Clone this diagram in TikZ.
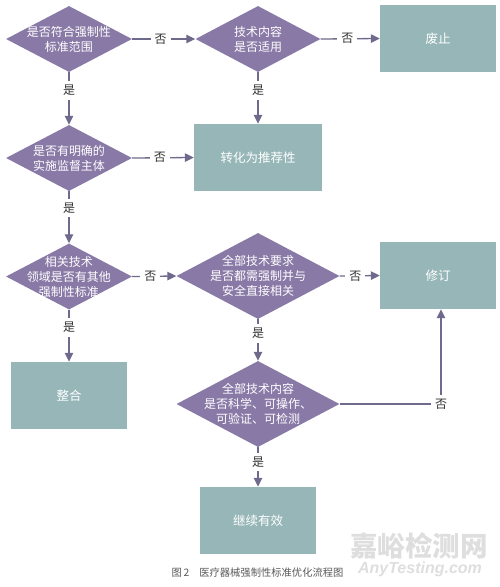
\documentclass[tikz,border=0pt]{standalone}
\usepackage{fontspec}
\setmainfont{Noto Sans CJK SC}
\newfontfamily\latinwm{Liberation Sans}
\usetikzlibrary{shapes.geometric,arrows.meta}

\definecolor{decfill}{HTML}{8979A6}
\definecolor{boxfill}{HTML}{96B6B8}
\definecolor{flowline}{HTML}{6E6A8C}

\tikzset{
  dec/.style={diamond, fill=decfill, inner sep=0pt},
  dectext/.style={align=center, text=white, font=\fontsize{12}{15}\selectfont},
  endbox/.style={rectangle, fill=boxfill, text=white, inner sep=0pt, font=\fontsize{12.5}{15}\selectfont},
  flow/.style={-{Triangle[length=9pt,width=8.5pt]}, line width=1.3pt, draw=flowline},
  answer/.style={fill=white, inner sep=4pt, text=black!80, font=\fontsize{12}{14}\selectfont},
}

\begin{document}
\begin{tikzpicture}[x=1pt, y=-1pt]
  \useasboundingbox (0,0) rectangle (500,587);

  % decisions
  \node[dec, minimum width=126pt, minimum height=66pt] (fanwei) at (69,39) {};
  \node[dec, minimum width=125pt, minimum height=66pt] (shiyong) at (258,39) {};
  \node[dec, minimum width=126pt, minimum height=66pt] (zhuti) at (69,158) {};
  \node[dec, minimum width=126pt, minimum height=66pt] (qita) at (69,276.5) {};
  \node[dec, minimum width=163pt, minimum height=86pt] (quanbu) at (258,276) {};
  \node[dec, minimum width=163pt, minimum height=86pt] (kexue) at (258,404) {};

  \node[dectext] (fanweit) at (fanwei) {是否符合强制性\\标准范围};
  \node[dectext] (shiyongt) at (shiyong) {技术内容\\是否适用};
  \node[dectext] (zhutit) at (zhuti) {是否有明确的\\实施监督主体};
  \node[dectext] (qitat) at (qita) {相关技术\\领域是否有其他\\强制性标准};
  \node[dectext] (quanbut) at (quanbu) {全部技术要求\\是否都需强制并与\\安全直接相关};
  \node[dectext] (kexuet) at (kexue) {全部技术内容\\是否科学、可操作、\\可验证、可检测};

  % results
  \node[endbox, minimum width=116pt, minimum height=67pt] (feizhi) at (438,38.5) {废止};
  \node[endbox, minimum width=128pt, minimum height=67pt] (tuijian) at (258,157.5) {转化为推荐性};
  \node[endbox, minimum width=116pt, minimum height=67pt] (xiuding) at (438,275.5) {修订};
  \node[endbox, minimum width=116pt, minimum height=67pt] (zhenghe) at (69,395.5) {整合};
  \node[endbox, minimum width=116pt, minimum height=67pt] (youxiao) at (258,520.5) {继续有效};

  % connectors
  \draw[flow] (fanwei.east) -- node[answer, pos=.45] (n1) {否} (shiyong.west);
  \draw[flow] (shiyong.east) -- node[answer, pos=.45] (n2) {否} (feizhi.west);
  \draw[flow] (fanwei.south) -- node[answer, pos=.35] (y1) {是} (zhuti.north);
  \draw[flow] (shiyong.south) -- node[answer, pos=.35] (y2) {是} (tuijian.north);
  \draw[flow] (zhuti.east) -- node[answer, pos=.45] (n3) {否} (tuijian.west);
  \draw[flow] (zhuti.south) -- node[answer, pos=.32] (y3) {是} (qita.north);
  \draw[flow] (qita.east) -- node[answer, pos=.41] (n4) {否} (quanbu.west);
  \draw[flow] (quanbu.east) -- node[answer, pos=.39] (n5) {否} (xiuding.west);
  \draw[flow] (qita.south) -- node[answer, pos=.34] (y4) {是} (zhenghe.north);
  \draw[flow] (quanbu.south) -- node[answer, pos=.34] (y5) {是} (kexue.north);
  \draw[flow] (kexue.south) -- node[answer, pos=.37] (y6) {是} (youxiao.north);

  \coordinate (turn) at (441,404);
  \draw[flow] (kexue.east) -- (turn) -- (turn |- xiuding.south);
  \node[answer] (n6) at (turn) {否};

  % caption
  \node[anchor=west, text=black!65, font=\fontsize{10.3}{12}\selectfont] (cap) at (168,573) {图\,2\hspace{10pt}医疗器械强制性标准优化流程图};

  % watermark
  \node[text=black!13, font=\fontsize{27.5}{30}\selectfont\bfseries] (mark) at (419,546) {嘉峪检测网};
  \node[text=black!13, font=\fontsize{16}{18}\selectfont\latinwm\bfseries\itshape] (markb) at (420,569) {AnyTesting.com};
\end{tikzpicture}
\end{document}
